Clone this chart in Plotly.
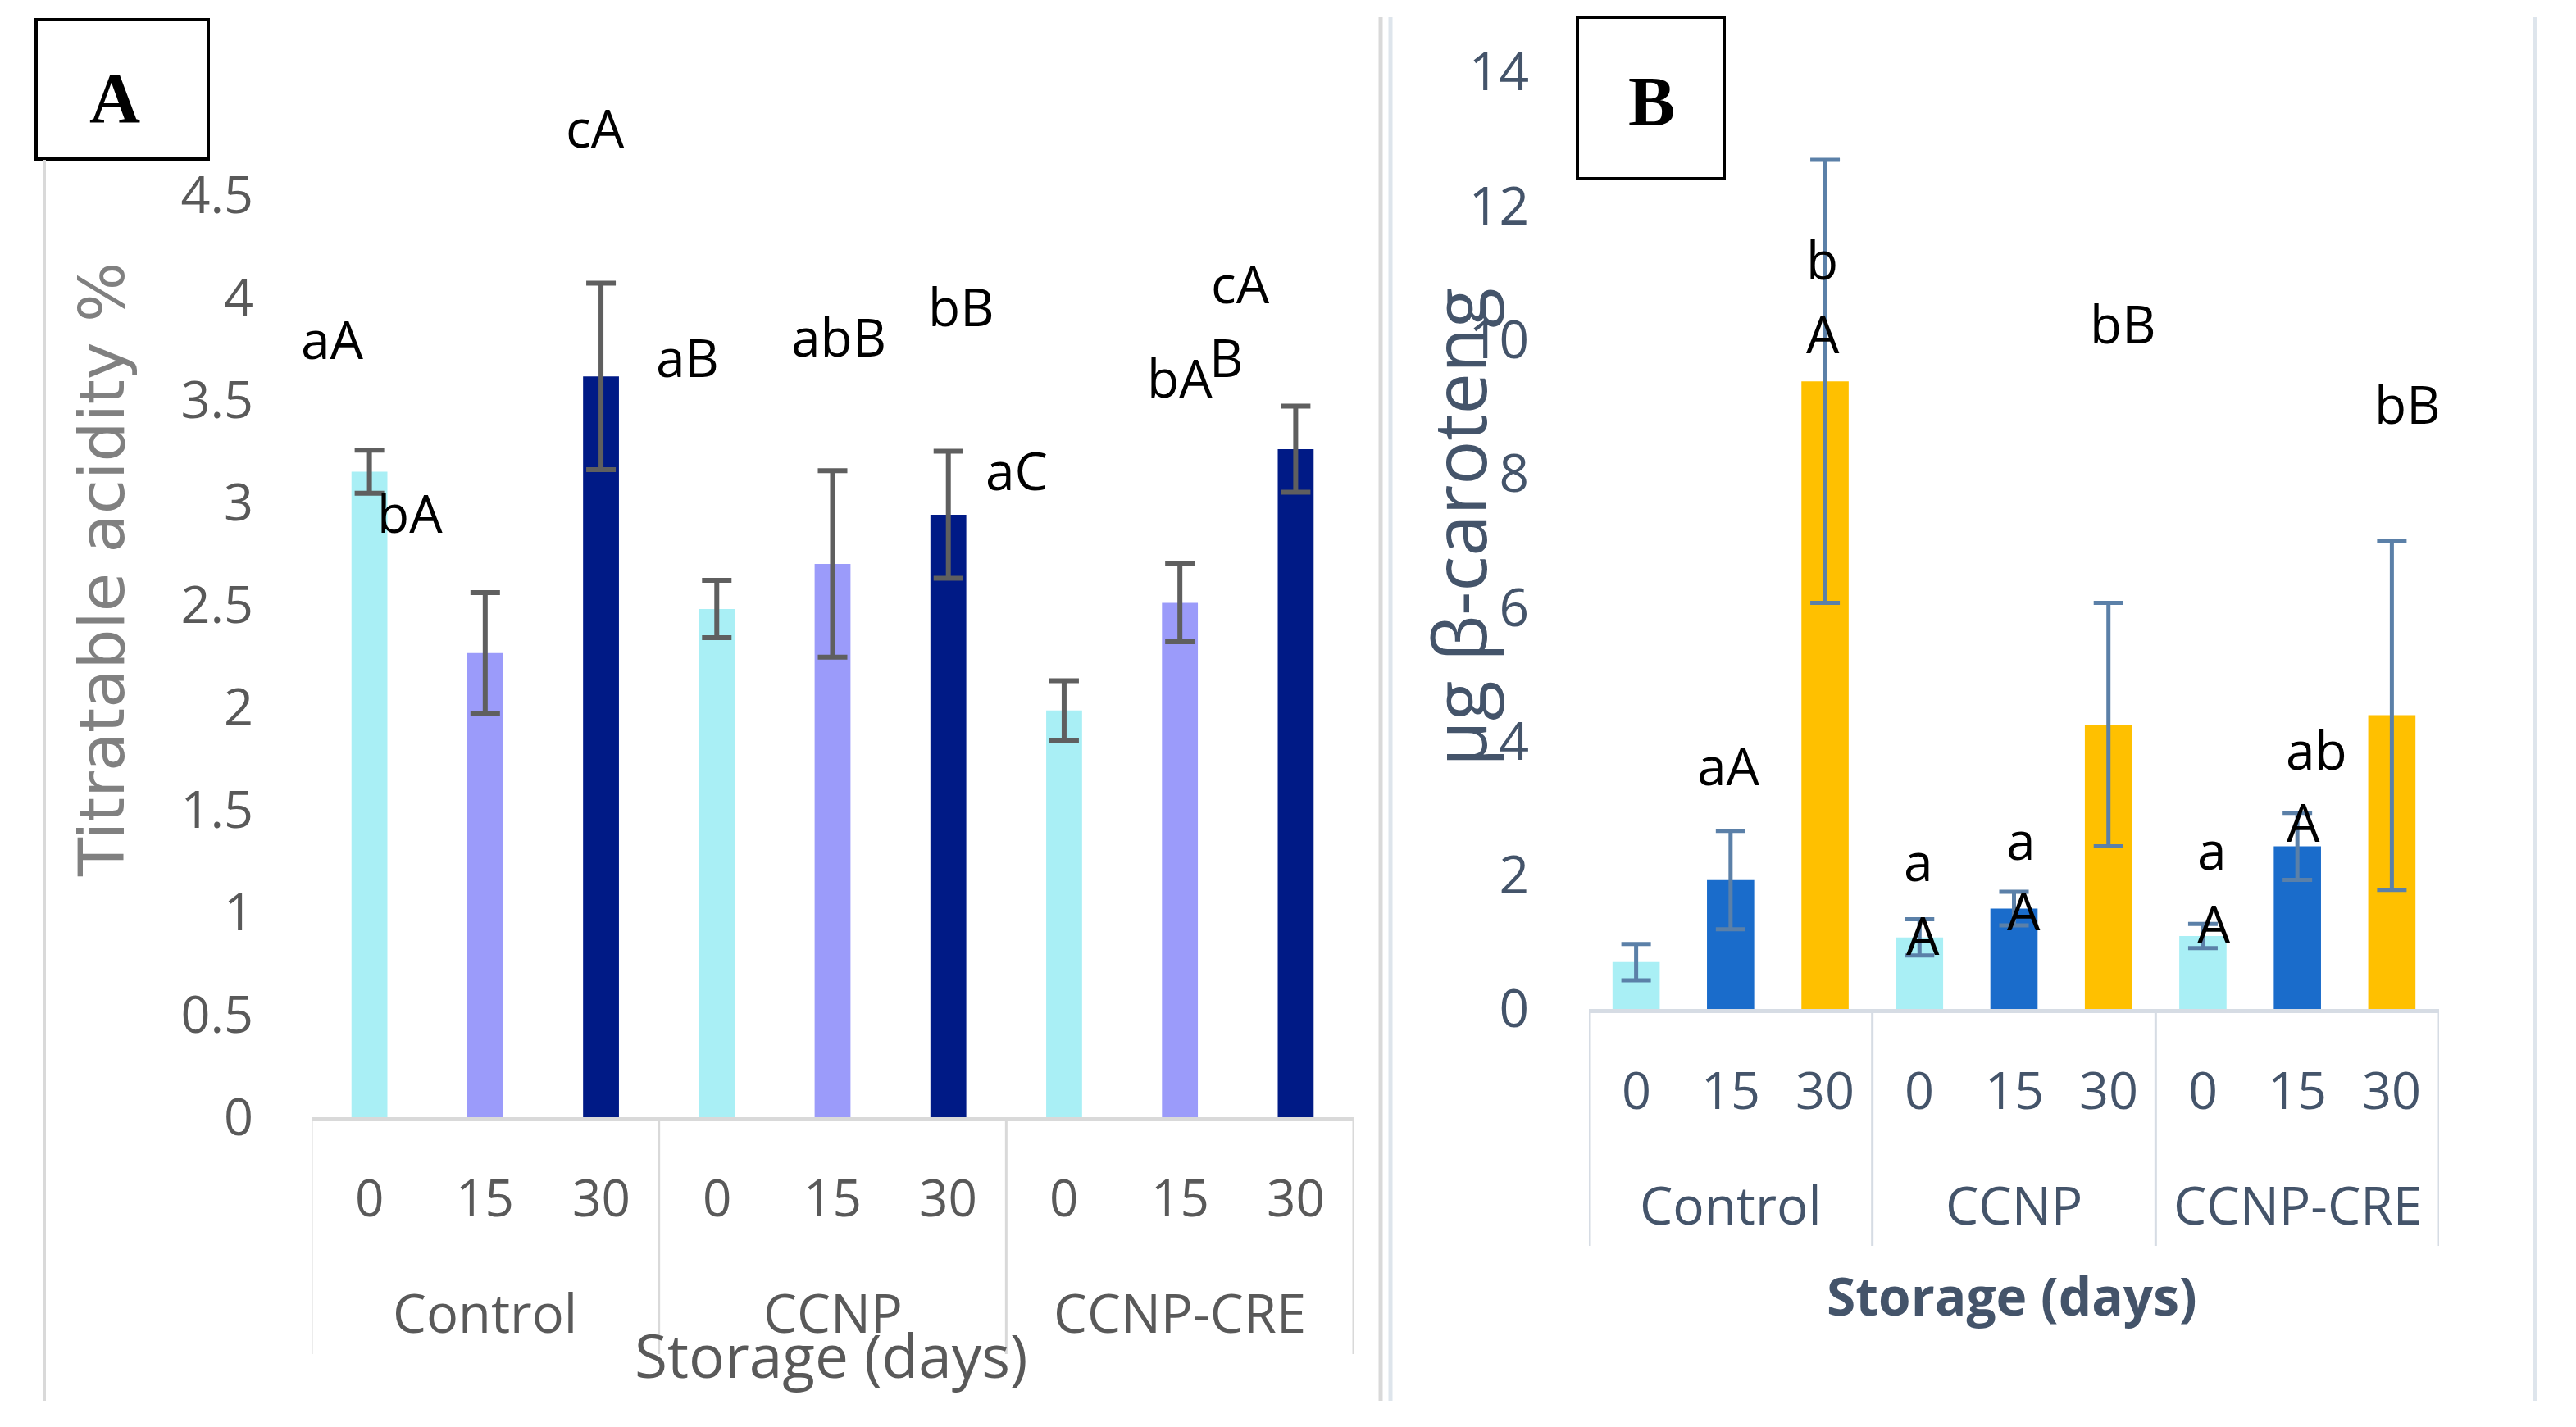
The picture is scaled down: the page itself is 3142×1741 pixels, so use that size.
import plotly.graph_objects as go

W, H = 3142, 1741
M = 8  # default page body margin
FW, FH = W - 2 * M, H - 2 * M

# ---------------- data ----------------
groups = ["Control", "CCNP", "CCNP-CRE"]
days = ["0", "15", "30"]

# Panel A: titratable acidity (%)
ta_day0 = [3.15, 2.48, 1.985]
ta_day15 = [2.265, 2.70, 2.51]
ta_day30 = [3.615, 2.94, 3.26]
ta_sd_day0 = [0.105, 0.14, 0.145]
ta_sd_day15 = [0.295, 0.455, 0.19]
ta_sd_day30 = [0.455, 0.31, 0.21]
ta_ticks = [0, 0.5, 1, 1.5, 2, 2.5, 3, 3.5, 4, 4.5]

# Panel B: beta-carotene (ug)
bc_day0 = [0.70, 1.07, 1.09]
bc_day15 = [1.925, 1.50, 2.43]
bc_day30 = [9.38, 4.25, 4.39]
bc_sd_day0 = [0.27, 0.27, 0.18]
bc_sd_day15 = [0.735, 0.25, 0.50]
bc_sd_day30 = [3.31, 1.82, 2.61]
bc_ticks = [0, 2, 4, 6, 8, 10, 12, 14]

# significance letters
ta_letters = ["aA", "bA", "cA", "aB", "abB", "bB", "aC", "bA", "B", "cA"]
bc_letters = ["b", "A", "bB", "bB", "aA", "a", "A", "a", "A", "a", "A", "ab", "A"]

# label placement (category index, value)
ta_letter_pos = [(-0.32, 3.80), (0.35, 2.95), (1.95, 4.83), (2.75, 3.71), (4.05, 3.81),
                 (5.11, 3.96), (5.59, 3.16), (7.0, 3.61), (7.40, 3.71), (7.52, 4.07)]
bc_letter_pos = [(1.97, 11.2), (1.98, 10.1), (5.15, 10.24), (8.17, 9.04), (0.98, 3.64),
                 (2.99, 2.21), (3.04, 1.11), (4.07, 2.53), (4.10, 1.47), (6.10, 2.38),
                 (6.12, 1.28), (7.20, 3.88), (7.06, 2.80)]

# ---------------- style ----------------
FONT = "Open Sans, Segoe UI, Lato, sans-serif"
GRAY_TXT = "#595959"
BLUE_TXT = "#44546A"
A_COLORS = ["#A9EFF5", "#9B9BFA", "#001A86"]
B_COLORS = ["#A9EFF5", "#1A6CCB", "#FFC000"]


def px(x):
    return (x - M) / FW


def py(y):
    return 1 - (y - M) / FH


fig = go.Figure()

ta_vals = [ta_day0, ta_day15, ta_day30]
ta_sds = [ta_sd_day0, ta_sd_day15, ta_sd_day30]
bc_vals = [bc_day0, bc_day15, bc_day30]
bc_sds = [bc_sd_day0, bc_sd_day15, bc_sd_day30]

for d in range(3):
    xs = [3 * g + d for g in range(3)]
    fig.add_trace(go.Bar(
        x=xs, y=ta_vals[d], width=0.31, marker=dict(color=A_COLORS[d], line=dict(width=0)),
        error_y=dict(type="data", array=ta_sds[d], color="#5F5F5F", thickness=6, width=18),
        xaxis="x", yaxis="y", showlegend=False, name=days[d] + " d"))
    fig.add_trace(go.Bar(
        x=xs, y=bc_vals[d], width=0.5, marker=dict(color=B_COLORS[d], line=dict(width=0)),
        error_y=dict(type="data", array=bc_sds[d], color="#5B80A8", thickness=5, width=18),
        xaxis="x2", yaxis="y2", showlegend=False, name=days[d] + " d"))

A_X0, A_X1, A_Y0 = 380, 1651, 1363
A_UNIT = 250.0
A_TOP = A_Y0 - 5.0 * A_UNIT
B_X0, B_X1, B_Y0, B_Y14 = 1938, 2975, 1231, 88

fig.update_layout(
    width=FW, height=FH, margin=dict(l=0, r=0, t=0, b=0, pad=0, autoexpand=False),
    paper_bgcolor="white", plot_bgcolor="white", barmode="overlay",
    font=dict(family=FONT),
    xaxis=dict(domain=[px(A_X0), px(A_X1)], range=[-0.5, 8.5], showticklabels=False,
               showgrid=False, zeroline=False, showline=True, linecolor="#D9D9D9",
               linewidth=5, ticks="", anchor="y", automargin=False),
    yaxis=dict(domain=[py(A_Y0), py(A_TOP)], range=[0, 5.0], tickvals=ta_ticks,
               ticktext=[f"{v:g}" for v in ta_ticks], showgrid=False, zeroline=False,
               showline=False, ticks="", ticklabelstandoff=70, automargin=False,
               tickfont=dict(family=FONT, size=63, color=GRAY_TXT), anchor="x"),
    xaxis2=dict(domain=[px(B_X0), px(B_X1)], range=[-0.5, 8.5], showticklabels=False,
                showgrid=False, zeroline=False, showline=True, linecolor="#D6DCE4",
                linewidth=5, ticks="", anchor="y2", automargin=False),
    yaxis2=dict(domain=[py(B_Y0), py(B_Y14)], range=[0, 14], tickvals=bc_ticks,
                showgrid=False, zeroline=False, showline=False, ticks="",
                ticklabelstandoff=72, automargin=False,
                tickfont=dict(family=FONT, size=64, color=BLUE_TXT), anchor="x2"),
)


def label(text, x, y, xref, yref, size, color, family=FONT, angle=0):
    return dict(text=text, x=x, y=y, xref=xref, yref=yref, showarrow=False,
                xanchor="center", yanchor="middle", textangle=angle,
                font=dict(family=family, size=size, color=color))


ann = []
# significance letters
for t, (x, y) in zip(ta_letters, ta_letter_pos):
    ann.append(label(t, x, y, "x", "y", 64, "black"))
for t, (x, y) in zip(bc_letters, bc_letter_pos):
    ann.append(label(t, x, y, "x2", "y2", 64, "black"))

# category tick labels and group labels
for g in range(3):
    for d in range(3):
        ann.append(label(days[d], 3 * g + d, py(1460), "x", "paper", 62, GRAY_TXT))
        ann.append(label(days[d], 3 * g + d, py(1328), "x2", "paper", 63, BLUE_TXT))
    ann.append(label(groups[g], 3 * g + 1, py(1601), "x", "paper", 65, GRAY_TXT))
    ann.append(label(groups[g], 3 * g + 1, py(1469), "x2", "paper", 64, BLUE_TXT))

# axis titles
ann.append(label("Storage (days)", px(1014), py(1652), "paper", "paper", 73, GRAY_TXT))
ann.append(label("<b>Storage (days)</b>", px(2454), py(1580), "paper", "paper", 64, BLUE_TXT))
ann.append(label("Titratable acidity %", px(124), py(695), "paper", "paper", 77, "#808080",
                 family="DejaVu Sans, Verdana, sans-serif", angle=-90))
ann.append(label("μg β-caroteng", px(1778), py(643), "paper", "paper", 90, BLUE_TXT, angle=-90))

# panel letters
SERIF = "Liberation Serif, Times New Roman, serif"
ann.append(label("<b>A</b>", px(140), py(120), "paper", "paper", 86, "black", family=SERIF))
ann.append(label("<b>B</b>", px(2015), py(124), "paper", "paper", 86, "black", family=SERIF))

shapes = []
# category dividers
for b in [-0.5, 2.5, 5.5, 8.5]:
    shapes.append(dict(type="line", xref="x", yref="paper", x0=b, x1=b, y0=py(A_Y0), y1=py(1652),
                       line=dict(color="#D9D9D9", width=3)))
    shapes.append(dict(type="line", xref="x2", yref="paper", x0=b, x1=b, y0=py(B_Y0), y1=py(1520),
                       line=dict(color="#D6DCE4", width=3)))
# chart-area borders
shapes.append(dict(type="line", xref="paper", yref="paper", x0=px(54), x1=px(54),
                   y0=py(195), y1=py(1709), line=dict(color="#D9D9D9", width=4)))
shapes.append(dict(type="line", xref="paper", yref="paper", x0=px(1684), x1=px(1684),
                   y0=py(21), y1=py(1709), line=dict(color="#D9D9D9", width=5)))
shapes.append(dict(type="line", xref="paper", yref="paper", x0=px(1696), x1=px(1696),
                   y0=py(21), y1=py(1709), line=dict(color="#DEE5EC", width=5)))
shapes.append(dict(type="line", xref="paper", yref="paper", x0=px(3092), x1=px(3092),
                   y0=py(21), y1=py(1709), line=dict(color="#DEE5EC", width=5)))
# panel boxes
shapes.append(dict(type="rect", xref="paper", yref="paper", x0=px(44), x1=px(254),
                   y0=py(194), y1=py(24), line=dict(color="black", width=4),
                   fillcolor="white", layer="below"))
shapes.append(dict(type="rect", xref="paper", yref="paper", x0=px(1924), x1=px(2103),
                   y0=py(218), y1=py(21), line=dict(color="black", width=4),
                   fillcolor="white", layer="below"))

fig.update_layout(annotations=ann, shapes=shapes)
fig.write_html("out.html")
